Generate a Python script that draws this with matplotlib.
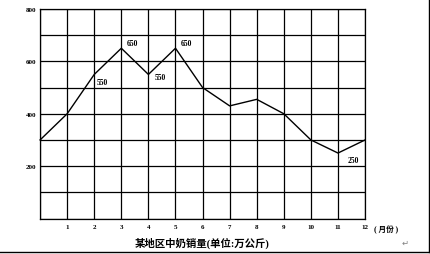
import matplotlib
matplotlib.use("Agg")
import matplotlib.pyplot as plt
from matplotlib.lines import Line2D

# monthly milk sales (units: 10k kg)
months = [0, 1, 2, 3, 4, 5, 6, 7, 8, 9, 10, 11, 12]
sales = [300, 400, 550, 650, 550, 650, 500, 430, 455, 400, 300, 250, 300]
x_ticks = list(range(1, 13))
y_ticks = [200, 400, 600, 800]
labeled = [(2, 550), (3, 650), (4, 550), (5, 650), (11, 250)]
title = "某地区中奶销量(单位:万公斤)"

plt.rcParams['font.family'] = ['Liberation Serif', 'Noto Sans CJK SC', 'DejaVu Sans']

fig = plt.figure(figsize=(4.31, 2.55), dpi=100)
ax = fig.add_axes([0.093, 0.139, 0.754, 0.822])

ax.set_xlim(0, 12)
ax.set_ylim(0, 800)
ax.set_xticks(range(0, 13))
ax.set_yticks(range(0, 801, 100))
ax.grid(True, color="black", linewidth=0.9)
for s in ax.spines.values():
    s.set_linewidth(0.9)
ax.tick_params(length=0)
ax.tick_params(axis="x", pad=4)
ax.tick_params(axis="y", pad=3)

ax.set_xticklabels(["" if m == 0 else str(m) for m in range(0, 13)],
                   fontsize=5, fontweight="bold")
ax.set_yticklabels([str(v) if v in y_ticks else "" for v in range(0, 801, 100)],
                   fontsize=5, fontweight="bold")

ax.plot(months, sales, color="black", linewidth=1.0, clip_on=False)

offsets = {(2, 550): (3, -8), (3, 650): (5, 5), (4, 550): (6, -3),
           (5, 650): (5, 5), (11, 250): (10, -7)}
for m, v in labeled:
    dx, dy = offsets[(m, v)]
    ax.annotate(str(v), (m, v), xytext=(dx, dy), textcoords="offset pixels",
                fontsize=5.5, fontweight="bold", ha="left", va="center")

ax.annotate("( 月份 )", (12, 0), xytext=(9, -10), textcoords="offset pixels",
            fontsize=5.5, fontweight="bold", ha="left", va="center",
            annotation_clip=False)

fig.text(0.47, 0.047, title, fontsize=7.5, fontweight="bold",
         ha="center", va="center")
fig.text(0.94, 0.045, "↵", fontsize=6, color="gray", ha="center", va="center",
         family=["DejaVu Sans"])

# page frame (right and bottom edges)
fig.add_artist(Line2D([0, 0.995], [0.008, 0.008], color="black", linewidth=1.0,
                      transform=fig.transFigure))
fig.add_artist(Line2D([0.995, 0.995], [0.008, 1.0], color="black", linewidth=1.0,
                      transform=fig.transFigure))

fig.savefig("out.png", dpi=100)
